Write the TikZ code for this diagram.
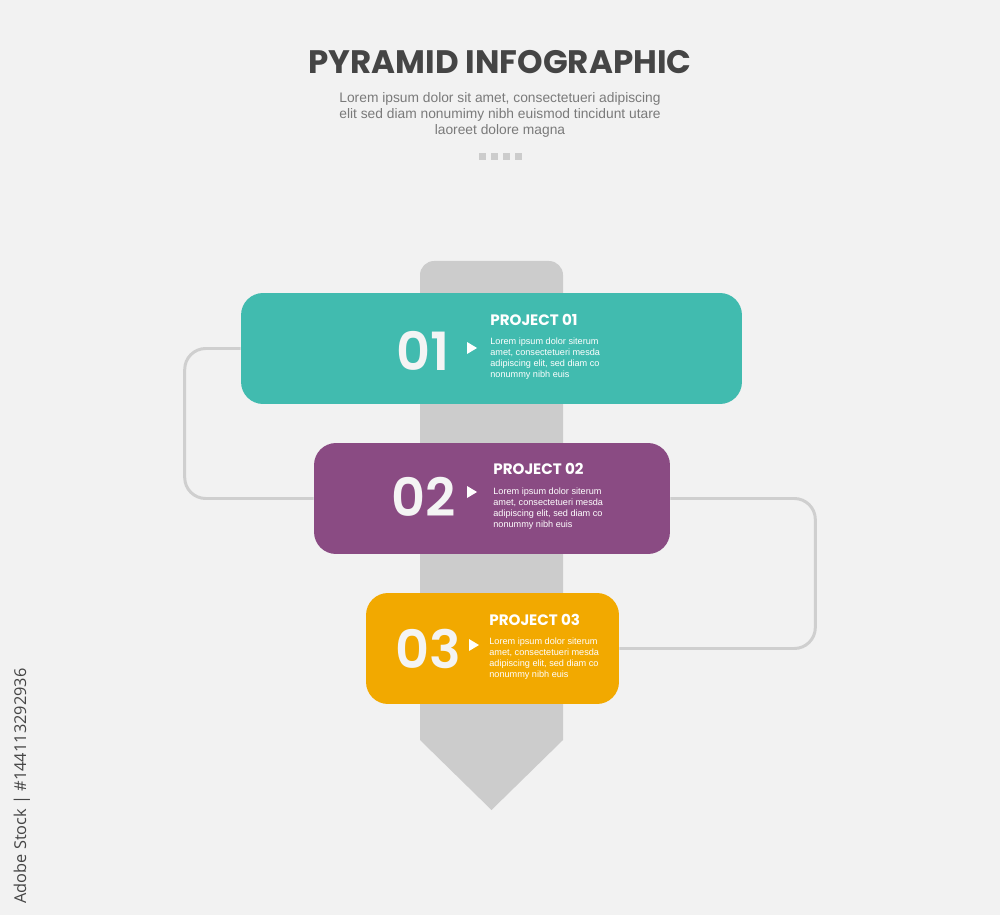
\documentclass[tikz,border=0pt]{standalone}
\usepackage{fontspec}
\usepackage{tikz}
\usetikzlibrary{positioning}
\newfontfamily\headfont{Poppins}
\newfontfamily\numfont{Poppins SemiBold}
\newfontfamily\copyfont{Liberation Sans}
\newfontfamily\markfont{Open Sans}
\definecolor{bgGray}{HTML}{F2F2F2}
\definecolor{stemGray}{HTML}{CCCCCC}
\definecolor{linkGray}{HTML}{CFCFCF}
\definecolor{titleGray}{HTML}{454545}
\definecolor{subGray}{HTML}{7A7A7A}
\definecolor{tealCard}{HTML}{41BBAF}
\definecolor{plumCard}{HTML}{8A4B83}
\definecolor{sunCard}{HTML}{F2A900}
\definecolor{numWhite}{HTML}{F4F4F4}
\tikzset{
  card/.style={rounded corners=0.44cm, inner sep=0, minimum height=2.22cm},
  link/.style={draw=linkGray, line width=1.7pt, rounded corners=0.42cm},
  num/.style={text=numWhite, inner sep=0, font=\numfont\fontsize{30}{30}\selectfont},
  head/.style={text=white, inner sep=0, anchor=west, font=\headfont\bfseries\fontsize{8.6}{9}\selectfont},
  body/.style={text=white, inner sep=0, anchor=north west, align=left, font=\copyfont\fontsize{5.2}{6.25}\selectfont},
  tip/.style={fill=white}
}
\begin{document}
\begin{tikzpicture}[x=0.02cm,y=-0.02cm]
\fill[bgGray] (0,0) rectangle (1000,915);

% title block
\node[text=titleGray, inner sep=0, font=\headfont\bfseries\fontsize{18.5}{18.5}\selectfont] (title) at (500,62) {PYRAMID INFOGRAPHIC};
\node[text=subGray, inner sep=0, align=center, font=\copyfont\fontsize{7.85}{9.1}\selectfont] (sub) at (500,115) {Lorem ipsum dolor sit amet, consectetueri adipiscing\\elit sed diam nonumimy nibh euismod tincidunt utare\\laoreet dolore magna};
\fill[stemGray] (479,153) rectangle ++(7,7);
\fill[stemGray] (491,153) rectangle ++(7,7);
\fill[stemGray] (503,153) rectangle ++(7,7);
\fill[stemGray] (515,153) rectangle ++(7,7);

% stem
\fill[stemGray] (420,740) [rounded corners=8] -- (420,261) -- (563,261) [sharp corners] -- (563,740) -- (491.5,810) -- cycle;

% cards
\node[card, fill=tealCard, minimum width=10.02cm] (p1) at (491.5,348.5) {};
\node[card, fill=plumCard, minimum width=7.12cm] (p2) at (492,498.5) {};
\node[card, fill=sunCard, minimum width=5.06cm] (p3) at (492.5,648.5) {};

% connectors
\draw[link] (p1.west) -- ++(-56,0) |- (p2.west);
\draw[link] (p2.east) -- ++(145,0) |- (p3.east);

% card 01
\node[num] (n1) at (423,351) {01};
\fill[tip] (467,342) -- (477,348) -- (467,354) -- cycle;
\node[head] (h1) at (490,320) {PROJECT 01};
\node[body] (b1) at (490,338) {Lorem ipsum dolor siterum\\amet, consectetueri mesda\\adipiscing elit, sed diam co\\nonummy nibh euis};

% card 02
\node[num] (n2) at (424,497) {02};
\fill[tip] (467,486) -- (477,492) -- (467,498) -- cycle;
\node[head] (h2) at (493,469) {PROJECT 02};
\node[body] (b2) at (493,488) {Lorem ipsum dolor siterum\\amet, consectetueri mesda\\adipiscing elit, sed diam co\\nonummy nibh euis};

% card 03
\node[num] (n3) at (428,649) {03};
\fill[tip] (469,639) -- (479,645) -- (469,651) -- cycle;
\node[head] (h3) at (489,620) {PROJECT 03};
\node[body] (b3) at (489,638) {Lorem ipsum dolor siterum\\amet, consectetueri mesda\\adipiscing elit, sed diam co\\nonummy nibh euis};

% side mark
\node[rotate=90, text=titleGray, inner sep=0, font=\markfont\fontsize{9.3}{10}\selectfont] (mark) at (22,786) {Adobe Stock | \#144113292936};
\end{tikzpicture}
\end{document}
